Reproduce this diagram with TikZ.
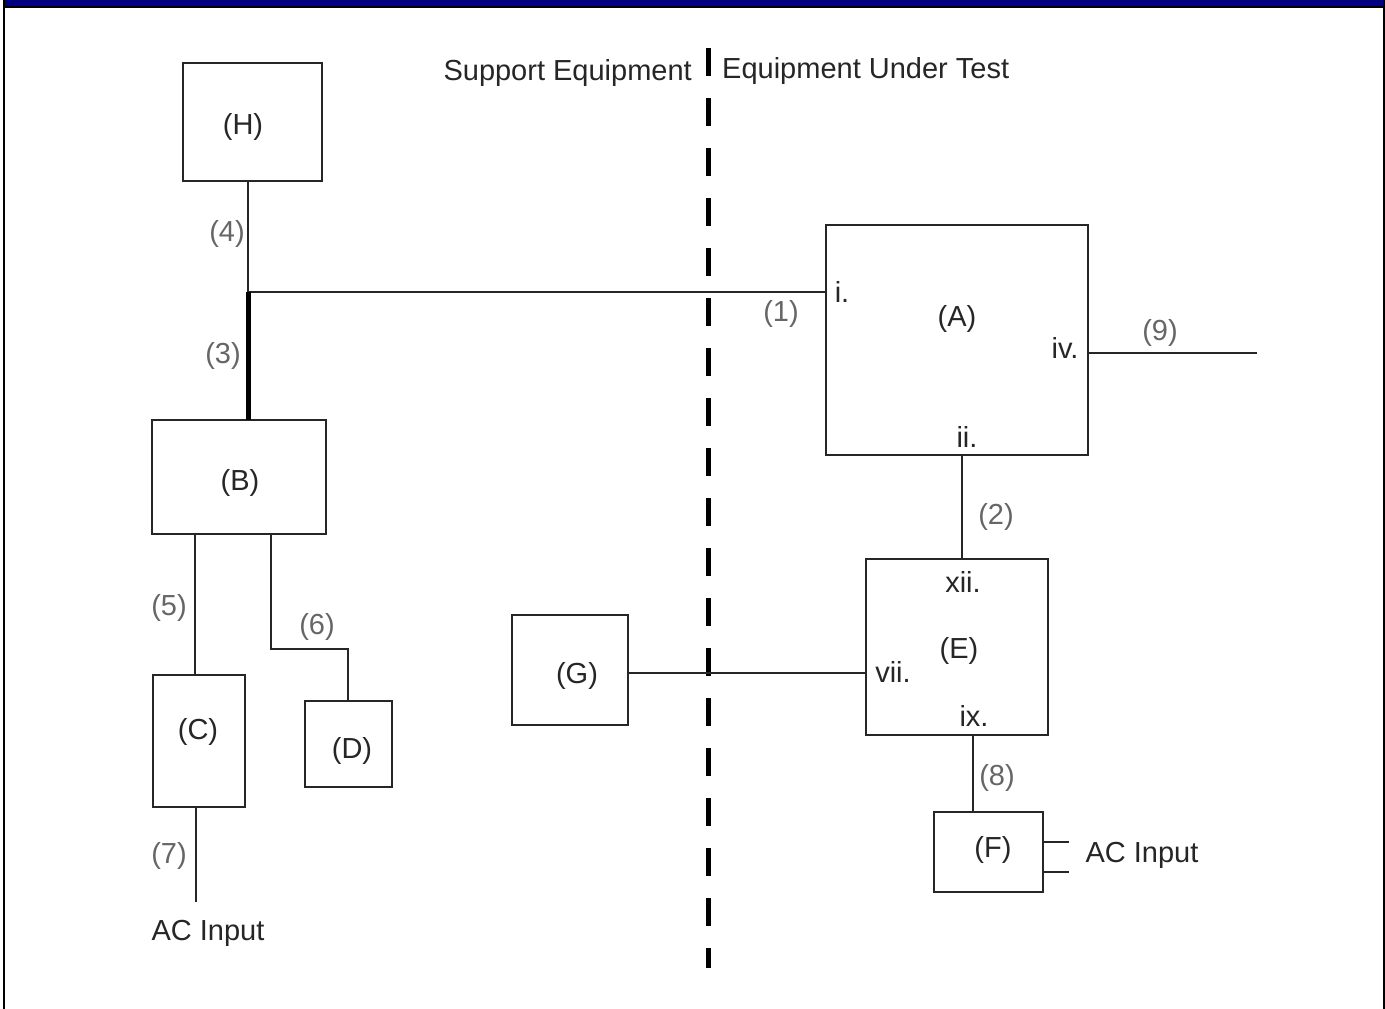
\documentclass[tikz,border=0pt]{standalone}
\usepackage{fontspec}
\setmainfont{Liberation Sans}
\usetikzlibrary{calc}
\definecolor{navyblue}{RGB}{0,0,128}
\begin{document}
\begin{tikzpicture}[x=1pt,y=-1pt,
  box/.style={draw=black!85, line width=2pt, inner sep=0pt, outer sep=0pt},
  wire/.style={draw=black!85, line width=2pt},
  txt/.style={font=\fontsize{29}{35}\selectfont, text=black!85, inner sep=0pt},
  num/.style={font=\fontsize{29}{35}\selectfont, text=black!60, inner sep=0pt}]
\useasboundingbox (0,0) rectangle (1385,1009);
\fill[white] (0,0) rectangle (1385,1009);
% frame
\fill[navyblue] (4,0) rectangle (1383,6);
\draw[line width=2pt] (3,7) -- (1384,7);
\draw[line width=2pt] (4,0) -- (4,1009);
\draw[line width=2pt] (1384,0) -- (1384,1009);
% titles
\node[txt, anchor=base east] (se) at (692,80) {Support Equipment};
\node[txt, anchor=base west] (eut) at (722,78) {Equipment Under Test};
% divider
\coordinate (dtop) at (708,48);
\coordinate (dbot) at (708,968);
\draw[line width=5pt, dash pattern=on 28pt off 22pt] (dtop) -- (dbot);
% boxes
\node[box, minimum width=139pt, minimum height=118pt] (H) at (252.5,122) {};
\node[box, minimum width=174pt, minimum height=114pt] (B) at (238.5,477) {};
\node[box, minimum width=92pt, minimum height=132pt] (C) at (199,741) {};
\node[box, minimum width=87pt, minimum height=86pt] (D) at (348.5,744) {};
\node[box, minimum width=116pt, minimum height=110pt] (G) at (570,670) {};
\node[box, minimum width=182pt, minimum height=176pt] (E) at (957,647) {};
\node[box, minimum width=262pt, minimum height=230pt] (A) at (957,340) {};
\node[box, minimum width=109pt, minimum height=80pt] (F) at (988.5,852) {};
% box labels
\node[txt] (lH) at (243,127) {(H)};
\node[txt] (lB) at (240,483) {(B)};
\node[txt] (lC) at (198,732) {(C)};
\node[txt] (lD) at (352,751) {(D)};
\node[txt] (lG) at (577,676) {(G)};
\node[txt] (lE) at (959,651) {(E)};
\node[txt] (lA) at (957,319) {(A)};
\node[txt] (lF) at (993,850) {(F)};
% port labels
\node[txt] (pi) at (842,292) {i.};
\node[txt] (piv) at (1065,348) {iv.};
\node[txt] (pii) at (967,437) {ii.};
\node[txt] (pxii) at (963,582) {xii.};
\node[txt] (pvii) at (893,672) {vii.};
\node[txt] (pix) at (974,716) {ix.};
% connectors
\coordinate (j) at (248,292);
\draw[wire] (j |- H.south) -- (j);
\draw[wire] (j) -- (j -| A.west);
\draw[black, line width=5pt] (j) -- (j |- B.north);
\coordinate (p5) at (195,0);
\draw[wire] (p5 |- B.south) -- (p5 |- C.north);
\coordinate (p6) at (271,649);
\coordinate (p6b) at (348,649);
\draw[wire] (p6 |- B.south) -- (p6) -- (p6b) -- (p6b |- D.north);
\coordinate (ac1) at (196,902);
\draw[wire] (ac1 |- C.south) -- (ac1);
\coordinate (p2) at (962,0);
\draw[wire] (p2 |- A.south) -- (p2 |- E.north);
\coordinate (pg) at (0,673);
\draw[wire] (pg -| G.east) -- (pg -| E.west);
\coordinate (p8) at (973,0);
\draw[wire] (p8 |- E.south) -- (p8 |- F.north);
\coordinate (p9) at (1257,353);
\draw[wire] (p9 -| A.east) -- (p9);
\coordinate (f1) at (1069,842);
\coordinate (f2) at (1069,872);
\draw[wire] (f1 -| F.east) -- (f1);
\draw[wire] (f2 -| F.east) -- (f2);
% AC input texts
\node[txt] (acL) at (208,933) {AC Input};
\node[txt] (acR) at (1142,855) {AC Input};
% number labels
\node[num] (n1) at (781,314) {(1)};
\node[num] (n2) at (996,517) {(2)};
\node[num] (n3) at (223,356) {(3)};
\node[num] (n4) at (227,234) {(4)};
\node[num] (n5) at (169,608) {(5)};
\node[num] (n6) at (317,627) {(6)};
\node[num] (n7) at (169,856) {(7)};
\node[num] (n8) at (997,778) {(8)};
\node[num] (n9) at (1160,333) {(9)};
\end{tikzpicture}
\end{document}
